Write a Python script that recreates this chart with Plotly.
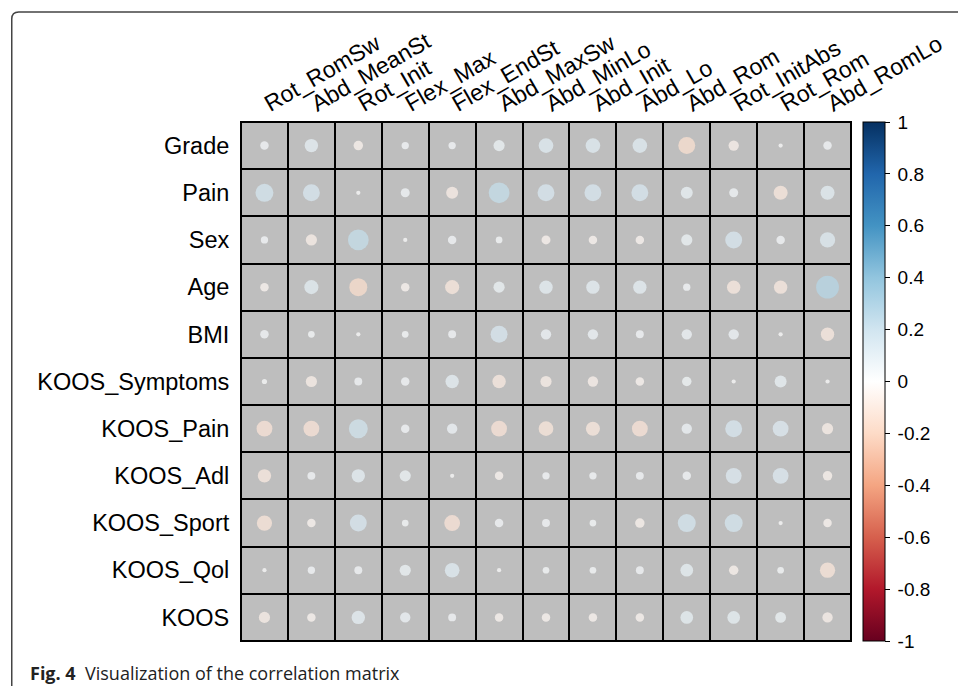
import numpy as np
import plotly.graph_objects as go

columns = ["Rot_RomSw", "Abd_MeanSt", "Rot_Init", "Flex_Max", "Flex_EndSt", "Abd_MaxSw",
           "Abd_MinLo", "Abd_Init", "Abd_Lo", "Abd_Rom", "Rot_InitAbs", "Rot_Rom", "Abd_RomLo"]
rows = ["Grade", "Pain", "Sex", "Age", "BMI", "KOOS_Symptoms", "KOOS_Pain",
        "KOOS_Adl", "KOOS_Sport", "KOOS_Qol", "KOOS"]

grade = [0.04, 0.10, -0.05, 0.03, 0.03, 0.07, 0.12, 0.12, 0.12, -0.16, -0.06, 0.01, 0.04]
pain = [0.18, 0.16, 0.01, 0.045, -0.08, 0.24, 0.16, 0.16, 0.16, 0.08, 0.045, -0.11, 0.11]
sex = [0.03, -0.07, 0.24, 0.01, 0.04, 0.025, -0.045, -0.04, -0.04, 0.07, 0.16, 0.04, 0.13]
age = [-0.04, 0.11, -0.18, -0.04, -0.11, 0.07, 0.10, 0.10, 0.10, 0.03, -0.10, -0.10, 0.29]
bmi = [0.04, 0.025, 0.01, 0.025, 0.035, 0.16, 0.06, 0.06, 0.035, 0.06, 0.06, 0.01, -0.10]
koos_symptoms = [0.015, -0.07, 0.035, 0.04, 0.10, -0.10, -0.07, -0.06, -0.04, 0.05, 0.01, 0.08, 0.01]
koos_pain = [-0.14, -0.14, 0.20, 0.04, 0.06, -0.14, -0.12, -0.11, -0.14, 0.06, 0.16, 0.14, -0.07]
koos_adl = [-0.10, 0.035, 0.10, 0.07, 0.01, -0.04, 0.03, 0.03, 0.035, 0.04, 0.14, 0.14, -0.05]
koos_sport = [-0.13, -0.04, 0.16, 0.025, -0.14, 0.04, 0.035, 0.025, -0.05, 0.18, 0.18, 0.01, -0.04]
koos_qol = [0.01, 0.03, 0.035, 0.07, 0.12, 0.01, 0.025, 0.025, 0.035, 0.09, -0.05, 0.025, -0.13]
koos = [-0.07, -0.04, 0.10, 0.06, 0.035, -0.04, -0.04, -0.04, -0.04, 0.09, 0.09, 0.065, -0.06]

colorbar_ticks = [1, 0.8, 0.6, 0.4, 0.2, 0, -0.2, -0.4, -0.6, -0.8, -1]
caption_bold = "Fig. 4"
caption_text = "Visualization of the correlation matrix"

matrix = np.array([grade, pain, sex, age, bmi, koos_symptoms, koos_pain,
                   koos_adl, koos_sport, koos_qol, koos])

W, H = 958, 686
L, R, T, B = 241, 105, 122, 45
PW, PH = W - L - R, H - T - B
cell = PW / len(columns)

def px(x):
    return (x - L) / PW

def py(y):
    return (H - B - y) / PH

rdbu = ["#67001F", "#B2182B", "#D6604D", "#F4A582", "#FDDBC7", "#FFFFFF",
        "#D1E5F0", "#92C5DE", "#4393C3", "#2166AC", "#053061"]
colorscale = [[i / 10, c] for i, c in enumerate(rdbu)]

xx, yy = np.meshgrid(columns, rows)
vals = matrix.flatten()

fig = go.Figure()
fig.add_trace(go.Heatmap(
    x=columns, y=rows, z=np.zeros_like(matrix),
    colorscale=[[0, "#BEBEBE"], [1, "#BEBEBE"]], showscale=False,
    xgap=2, ygap=2, hoverinfo="skip"))
fig.add_trace(go.Scatter(
    x=xx.flatten(), y=yy.flatten(), mode="markers",
    marker=dict(
        size=np.sqrt(np.abs(vals)), sizemode="diameter", sizeref=1 / (0.9 * cell),
        color=vals, colorscale=colorscale, cmin=-1, cmax=1,
        line=dict(width=0),
        showscale=True,
        colorbar=dict(
            x=px(865), xanchor="left", y=0.5, yanchor="middle", len=1, lenmode="fraction",
            thickness=22, xpad=0, ypad=0, outlinewidth=1, outlinecolor="black",
            ticks="outside", ticklen=5, tickcolor="black",
            tickvals=colorbar_ticks, ticktext=["\u2009" + str(v) for v in colorbar_ticks],
            tickfont=dict(size=19, color="black", family="Liberation Sans, Arial"),
        ),
    ),
    hoverinfo="skip", showlegend=False))

fig.update_layout(
    width=W, height=H, margin=dict(l=L, r=R, t=T, b=B, pad=0),
    paper_bgcolor="white", plot_bgcolor="black",
    font=dict(family="Liberation Sans, Arial", color="black"),
    xaxis=dict(side="top", range=[-0.5, len(columns) - 0.5], tickangle=-30,
               tickfont=dict(size=23), showgrid=False, zeroline=False, ticks="",
               ticklabelstandoff=-2, showline=True, linecolor="black", linewidth=1, mirror=True),
    yaxis=dict(range=[len(rows) - 0.5, -0.5], tickfont=dict(size=23.5), showgrid=False,
               zeroline=False, ticks="", ticklabelstandoff=6,
               showline=True, linecolor="black", linewidth=1, mirror=True),
    shapes=[dict(type="path", xref="paper", yref="paper",
                 path=f"M {px(11)} {py(700)} L {px(11)} {py(19)} Q {px(11)} {py(12)} {px(18)} {py(12)} L {px(970)} {py(12)}",
                 line=dict(color="#444444", width=1.5))],
    annotations=[dict(xref="paper", yref="paper", x=px(27), y=py(673), xanchor="left", yanchor="middle",
                      text=f"<b>{caption_bold}</b>  {caption_text}", showarrow=False,
                      font=dict(family="Open Sans", size=18, color="#222222"))],
)

fig.write_html("out.html", config={"displayModeBar": False},
               post_script="document.body.style.margin='0';document.body.style.overflow='hidden';")
